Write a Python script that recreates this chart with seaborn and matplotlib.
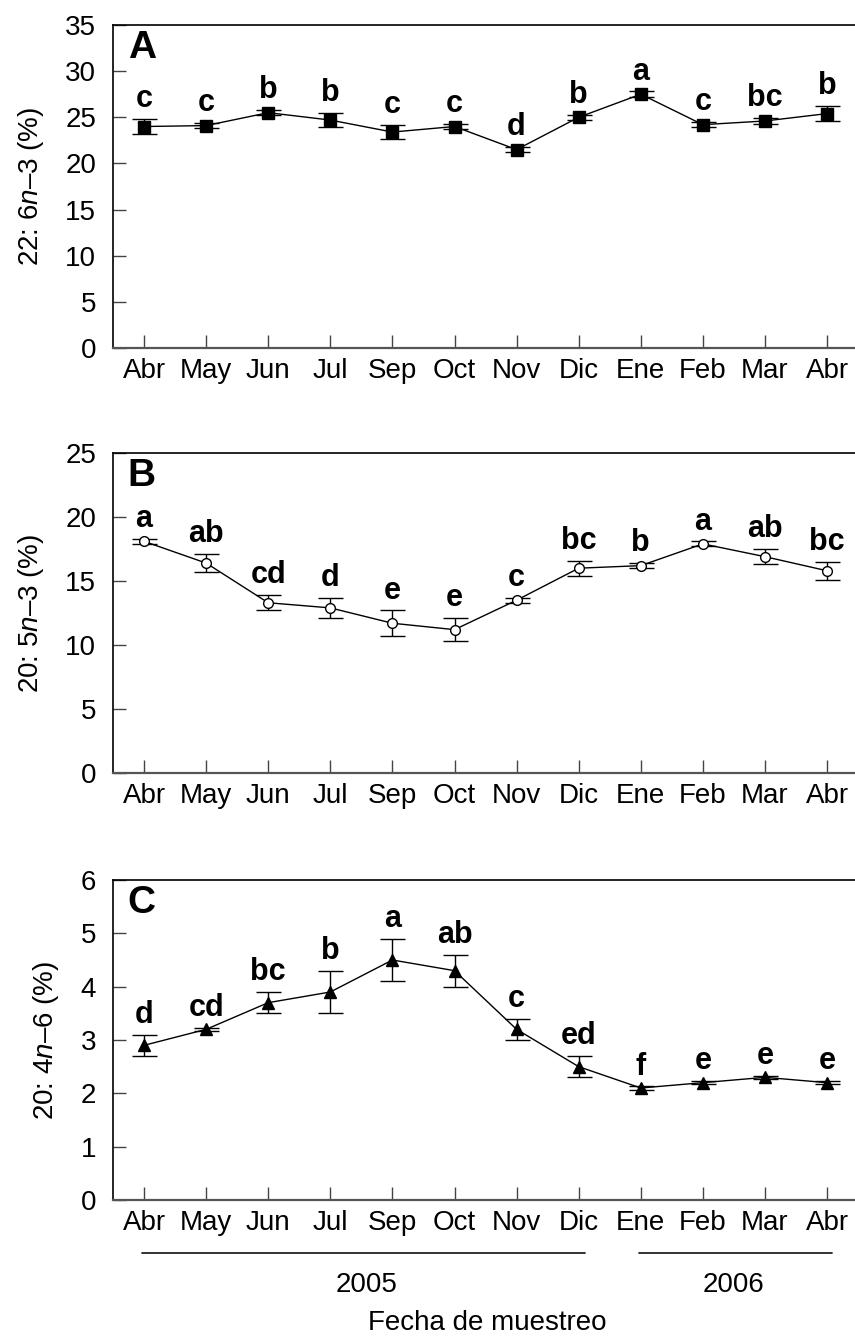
import numpy as np
import pandas as pd
import matplotlib
matplotlib.use("Agg")
import matplotlib.pyplot as plt
import seaborn as sns
from matplotlib.transforms import blended_transform_factory

# Sampling months (April 2005 - April 2006)
months = ["Abr", "May", "Jun", "Jul", "Sep", "Oct", "Nov", "Dic", "Ene", "Feb", "Mar", "Abr"]

# 22:6n-3 (%)
dha = [24.0, 24.1, 25.5, 24.7, 23.4, 24.0, 21.5, 25.0, 27.5, 24.2, 24.6, 25.4]
dha_se = [0.8, 0.3, 0.3, 0.8, 0.8, 0.3, 0.3, 0.3, 0.3, 0.3, 0.3, 0.8]
dha_grp = ["c", "c", "b", "b", "c", "c", "d", "b", "a", "c", "bc", "b"]

# 20:5n-3 (%)
epa = [18.1, 16.4, 13.3, 12.9, 11.7, 11.2, 13.5, 16.0, 16.2, 17.9, 16.9, 15.8]
epa_se = [0.2, 0.7, 0.6, 0.8, 1.0, 0.9, 0.2, 0.6, 0.2, 0.2, 0.6, 0.7]
epa_grp = ["a", "ab", "cd", "d", "e", "e", "c", "bc", "b", "a", "ab", "bc"]

# 20:4n-6 (%)
ara = [2.9, 3.2, 3.7, 3.9, 4.5, 4.3, 3.2, 2.5, 2.1, 2.2, 2.3, 2.2]
ara_se = [0.2, 0.03, 0.2, 0.4, 0.4, 0.3, 0.2, 0.2, 0.03, 0.03, 0.03, 0.03]
ara_grp = ["d", "cd", "bc", "b", "a", "ab", "c", "ed", "f", "e", "e", "e"]

sns.set_theme(style="white")
plt.rcParams["font.family"] = ["Liberation Sans", "DejaVu Sans"]
plt.rcParams["mathtext.fontset"] = "custom"
plt.rcParams["mathtext.rm"] = "Liberation Sans"
plt.rcParams["mathtext.it"] = "Liberation Sans:italic"
plt.rcParams["text.color"] = "black"
plt.rcParams["axes.labelcolor"] = "black"
plt.rcParams["xtick.color"] = "black"
plt.rcParams["ytick.color"] = "black"

W, H = 855, 1340
fig = plt.figure(figsize=(W / 100, H / 100), dpi=100)
fig.patch.set_facecolor("white")

panels = [
    dict(name="A", vals=dha, se=dha_se, grp=dha_grp, top=25, bot=348, ymax=35, step=5,
         label=r"22: 6$\mathit{n}$–3 (%)", marker="s", ms=8, mfc="black"),
    dict(name="B", vals=epa, se=epa_se, grp=epa_grp, top=453, bot=773, ymax=25, step=5,
         label=r"20: 5$\mathit{n}$–3 (%)", marker="o", ms=7, mfc="white"),
    dict(name="C", vals=ara, se=ara_se, grp=ara_grp, top=880, bot=1200, ymax=6, step=1,
         label=r"20: 4$\mathit{n}$–6 (%)", marker="^", ms=8, mfc="black"),
]

x = np.arange(len(months))
left_px = 113
axes = []
for p in panels:
    ax = fig.add_axes([left_px / W, 1 - p["bot"] / H, 1 - left_px / W, (p["bot"] - p["top"]) / H])
    axes.append(ax)
    df = pd.DataFrame({"pos": x, "val": p["vals"]})
    ax.errorbar(x, p["vals"], yerr=p["se"], fmt="none", ecolor="black",
                elinewidth=1.0, capsize=9, capthick=1.0, zorder=2)
    sns.lineplot(data=df, x="pos", y="val", ax=ax, color="black", linewidth=1.0,
                 marker=p["marker"], markersize=p["ms"], markerfacecolor=p["mfc"],
                 markeredgecolor="black", markeredgewidth=1.0, zorder=3)
    ax.set_xlim(-0.5, 11.45)
    ax.set_ylim(0, p["ymax"])
    ax.set_yticks(np.arange(0, p["ymax"] + p["step"] / 2, p["step"]))
    ax.set_xticks(x)
    ax.set_xticklabels(months)
    ax.set_xlabel("")
    ax.set_ylabel(p["label"], fontsize=20, labelpad=14, color="black")
    ax.tick_params(axis="both", direction="in", length=9.5, width=1.0, color="#444444",
                   labelsize=20, labelcolor="black")
    ax.tick_params(axis="y", pad=12, left=True)
    ax.tick_params(axis="x", pad=7, bottom=True)
    ax.spines["right"].set_visible(False)
    ax.spines["top"].set_linewidth(1.2)
    ax.spines["left"].set_linewidth(1.2)
    ax.spines["top"].set_color("black")
    ax.spines["left"].set_color("black")
    ax.spines["bottom"].set_color("#555555")
    ax.spines["bottom"].set_linewidth(1.6)
    ax.text(0.02, 0.985, p["name"], transform=ax.transAxes, fontsize=28,
            fontweight="bold", ha="left", va="top", color="black")
    for xi, v, e, g in zip(x, p["vals"], p["se"], p["grp"]):
        ax.annotate(g, xy=(xi, v + e), xytext=(0, 8.5), textcoords="offset points",
                    ha="center", va="baseline", fontsize=22, fontweight="bold",
                    color="black")

# Year brackets below the bottom panel
axc = axes[-1]
tr = blended_transform_factory(axc.transData, fig.transFigure)
y_line = 1 - 1253 / H
axc.plot([-0.03, 7.1], [y_line, y_line], transform=tr, color="#222222", lw=1.3, clip_on=False)
axc.plot([7.97, 11.08], [y_line, y_line], transform=tr, color="#222222", lw=1.3, clip_on=False)
fig.text(367 / W, 1 - 1292 / H, "2005", fontsize=20, ha="center", va="baseline")
fig.text(733 / W, 1 - 1292 / H, "2006", fontsize=20, ha="center", va="baseline")
fig.text(487 / W, 1 - 1330 / H, "Fecha de muestreo", fontsize=20, ha="center", va="baseline")

fig.savefig("out.png", dpi=100, facecolor="white")
